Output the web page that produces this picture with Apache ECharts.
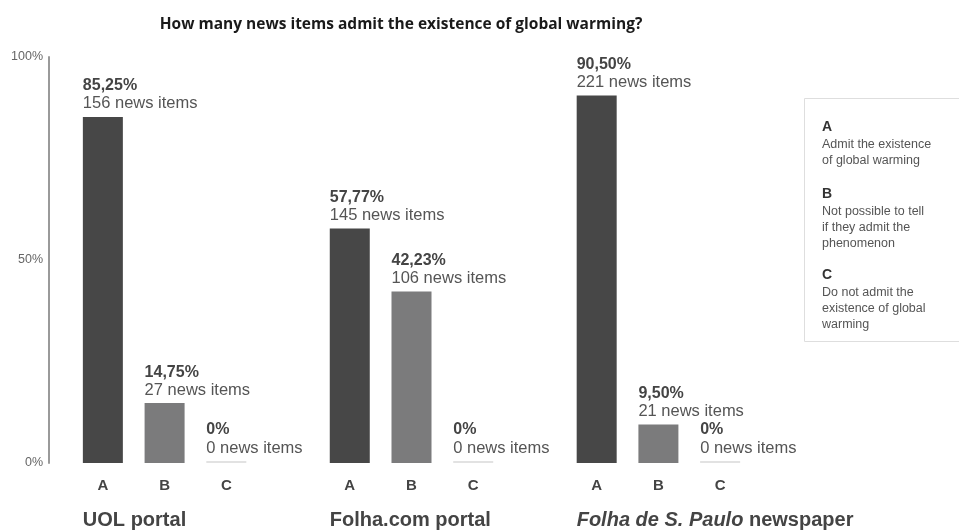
<!DOCTYPE html>
<html>
<head>
<meta charset="utf-8">
<script src="https://cdn.jsdelivr.net/npm/echarts@6/dist/echarts.min.js"></script>
<style>
html,body{margin:0;padding:0;background:#fff;}
#c{width:959px;height:532px;}
</style>
</head>
<body>
<div id="c"></div>
<script>
// ---- data ----
const title = 'How many news items admit the existence of global warming?';
const groups = ['UOL portal', 'Folha.com portal', 'Folha de S. Paulo newspaper'];
const letters = ['A', 'B', 'C'];
const pctA = [85.25, 57.77, 90.50];
const pctB = [14.75, 42.23, 9.50];
const pctC = [0, 0, 0];
const countA = [156, 145, 221];
const countB = [27, 106, 21];
const countC = [0, 0, 0];
const yTicks = [0, 50, 100];
const legendItems = [
  ['A', 'Admit the existence\nof global warming'],
  ['B', 'Not possible to tell\nif they admit the\nphenomenon'],
  ['C', 'Do not admit the\nexistence of global\nwarming']
];

// ---- build ----
const colors = { A: '#474747', B: '#7b7b7c', C: '#e2e2e2' };
const pcts = { A: pctA, B: pctB, C: pctC };
const counts = { A: countA, B: countB, C: countC };

function fmtPct(v) {
  return v === 0 ? '0%' : v.toFixed(2).replace('.', ',') + '%';
}

const categories = [];
const data = [];
groups.forEach((g, gi) => {
  letters.forEach(L => {
    categories.push(L);
    data.push({
      value: pcts[L][gi],
      itemStyle: { color: colors[L] },
      label: {
        show: true,
        formatter: '{p|' + fmtPct(pcts[L][gi]) + '}\n{n|' + counts[L][gi] + ' news items}'
      }
    });
  });
  if (gi < groups.length - 1) {
    categories.push('');
    data.push('-');
  }
});

const chart = echarts.init(document.getElementById('c'), null, { renderer: 'canvas' });

const legendGraphics = [{
  type: 'rect',
  shape: { x: 804.5, y: 98.5, width: 170, height: 243 },
  style: { fill: '#fff', stroke: '#dedede', lineWidth: 1 }
}];
const letterY = [127, 194, 275];
legendItems.forEach((it, i) => {
  legendGraphics.push({
    type: 'text', x: 822, y: letterY[i],
    style: { text: it[0], font: 'bold 14px "Liberation Sans", Arial, sans-serif', fill: '#333', verticalAlign: 'middle' }
  });
  legendGraphics.push({
    type: 'text', x: 822, y: letterY[i] + 10,
    style: { text: it[1], font: '12.5px "Liberation Sans", Arial, sans-serif', fill: '#555', lineHeight: 16, verticalAlign: 'top' }
  });
});

chart.setOption({
  animation: false,
  backgroundColor: '#fff',
  title: {
    text: title,
    left: 396, top: 12, textAlign: 'center',
    textStyle: { fontFamily: '"Open Sans", sans-serif', fontWeight: 'bold', fontSize: 15.5, color: '#1a1a1a' }
  },
  grid: { left: 72, right: 208, top: 57, bottom: 69, containLabel: false },
  xAxis: {
    type: 'category',
    data: categories,
    axisLine: { show: false },
    axisTick: { show: false },
    axisLabel: {
      interval: 0, margin: 15,
      fontFamily: '"Liberation Sans", Arial, sans-serif', fontWeight: 'bold', fontSize: 15, color: '#444'
    }
  },
  yAxis: {
    type: 'value',
    min: yTicks[0], max: yTicks[yTicks.length - 1], interval: yTicks[1] - yTicks[0],
    offset: 23,
    axisLine: { show: true, lineStyle: { color: '#9a9a9a', width: 2 } },
    axisTick: { show: false },
    splitLine: { show: false },
    axisLabel: {
      formatter: '{value}%', margin: 6,
      fontFamily: '"Liberation Sans", Arial, sans-serif', fontSize: 12.5, color: '#666'
    }
  },
  series: [{
    type: 'bar',
    data: data,
    barWidth: 40,
    barMinHeight: 2,
    label: {
      position: [0, -4],
      align: 'left',
      verticalAlign: 'bottom',
      rich: {
        p: { fontFamily: '"Liberation Sans", Arial, sans-serif', fontWeight: 'bold', fontSize: 16, color: '#444', lineHeight: 18 },
        n: { fontFamily: '"Liberation Sans", Arial, sans-serif', fontSize: 16.5, color: '#555', lineHeight: 18 }
      }
    }
  }],
  graphic: legendGraphics
});

// group names placed via the axis scale
const zeroY = chart.convertToPixel({ yAxisIndex: 0 }, 0);
const groupGraphics = groups.map((g, gi) => {
  const idx = gi * 4;
  const cx = chart.convertToPixel({ xAxisIndex: 0 }, idx);
  const isPaper = g.indexOf('Folha de S. Paulo') === 0;
  const txt = isPaper ? '{i|Folha de S. Paulo}' + g.slice('Folha de S. Paulo'.length) : g;
  return {
    type: 'text', x: cx - 20, y: zeroY + 57,
    style: {
      text: txt,
      font: 'bold 20px "Liberation Sans", Arial, sans-serif',
      fill: '#444', verticalAlign: 'middle',
      rich: { i: { fontStyle: 'italic', fontWeight: 'bold', fontSize: 20, fontFamily: '"Liberation Sans", Arial, sans-serif', fill: '#444' } }
    }
  };
});
chart.setOption({ graphic: legendGraphics.concat(groupGraphics) });
</script>
</body>
</html>
